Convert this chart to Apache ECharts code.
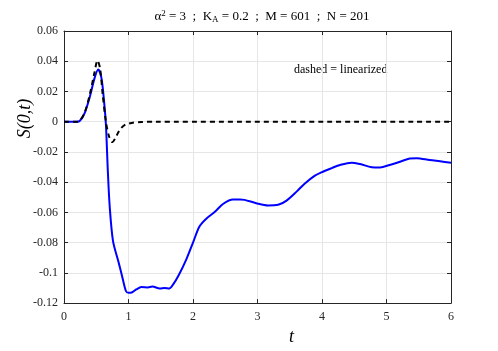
<!DOCTYPE html>
<html><head><meta charset="utf-8">
<script src="https://cdn.jsdelivr.net/npm/echarts@6/dist/echarts.min.js"></script>
<style>html,body{margin:0;padding:0;background:#fff}#c{width:498px;height:351px}</style>
</head><body><div id="c"></div>
<script>
const xTicks = [0,1,2,3,4,5,6];
const yTicks = [-0.12,-0.1,-0.08,-0.06,-0.04,-0.02,0,0.02,0.04,0.06];
const tBlue = [0,0.2,0.25,0.32,0.40,0.475,0.53,0.58,0.62,0.65,0.68,0.71,0.76,0.84,0.90,0.96,1.0,1.05,1.12,1.20,1.30,1.37,1.485,1.56,1.63,1.69,1.78,1.90,2.0,2.10,2.21,2.34,2.47,2.62,2.73,2.80,2.98,3.165,3.32,3.45,3.61,3.73,3.89,3.99,4.15,4.28,4.46,4.59,4.77,4.90,5.05,5.21,5.36,5.47,5.67,5.83,6.0];
const sBlue = [0,0,0.0008,0.0057,0.0164,0.029,0.0345,0.029,0.014,-0.002,-0.033,-0.057,-0.079,-0.092,-0.102,-0.112,-0.1132,-0.113,-0.111,-0.1094,-0.1096,-0.109,-0.1104,-0.110,-0.1104,-0.1078,-0.1014,-0.0907,-0.080,-0.0693,-0.064,-0.0596,-0.0543,-0.0515,-0.0515,-0.0517,-0.0539,-0.0554,-0.055,-0.0522,-0.0461,-0.041,-0.0357,-0.0335,-0.0307,-0.0286,-0.0271,-0.028,-0.0301,-0.0303,-0.0286,-0.0265,-0.0243,-0.0241,-0.0254,-0.0262,-0.0271];
const tDash = [0,0.2,0.25,0.32,0.40,0.47,0.52,0.56,0.60,0.65,0.70,0.75,0.80,0.87,0.95,1.05,1.2,1.4,6];
const sDash = [0,0,0.001,0.006,0.018,0.032,0.0405,0.035,0.018,0.0,-0.010,-0.0135,-0.0105,-0.005,-0.002,-0.0008,-0.0002,0,0];
const titleText = '{n|\u03b1}{s|2}{n| = 3  ;  K}{b|A}{n| = 0.2  ;  M = 601  ;  N = 201}';
const noteText = 'dashed = linearized';

const zip = (a,b) => a.map((v,i)=>[v,b[i]]);
const fmt = v => String(parseFloat((+v).toFixed(2)));
const serif = "'Liberation Serif', 'DejaVu Serif', serif";
const axCol = '#262626';
const chart = echarts.init(document.getElementById('c'));
const tick = {show: true, inside: true, length: 4, lineStyle: {color: axCol}};
const line = {show: true, onZero: false, lineStyle: {color: axCol, width: 1}};
chart.setOption({
  animation: false,
  title: {
    text: titleText, left: 257, top: 4, textAlign: 'center',
    textStyle: {
      fontWeight: 'normal',
      rich: {
        n: {fontFamily: serif, fontSize: 13, fontWeight: 'normal', color: '#000'},
        s: {fontFamily: serif, fontSize: 9, fontWeight: 'normal', color: '#000', verticalAlign: 'top', padding:[0,0,6,0]},
        b: {fontFamily: serif, fontSize: 9, fontWeight: 'normal', color: '#000', verticalAlign: 'bottom', padding:[6,0,0,0]}
      }
    }
  },
  grid: {left: 64, right: 47, top: 31, bottom: 39, show: false},
  xAxis: [{
    type: 'value', min: 0, max: 6, interval: 1, position: 'bottom',
    name: 't', nameLocation: 'middle', nameGap: 14,
    nameTextStyle: {fontFamily: serif, fontStyle: 'italic', fontSize: 18, color: '#000', padding:[6,0,0,68]},
    axisLine: line, axisTick: tick,
    axisLabel: {fontFamily: serif, fontSize: 12, color: axCol, margin: 8, formatter: fmt},
    splitLine: {show: true, lineStyle: {color: '#e6e6e6', width: 1}}
  },{
    type: 'value', min: 0, max: 6, interval: 1, position: 'top',
    axisLine: line, axisTick: tick,
    axisLabel: {show: false}, splitLine: {show: false}
  }],
  yAxis: [{
    type: 'value', min: -0.12, max: 0.06, interval: 0.02, position: 'left',
    name: 'S(0,t)', nameLocation: 'middle', nameGap: 30, nameRotate: 90, nameMoveOverlap: false,
    nameTextStyle: {fontFamily: serif, fontStyle: 'italic', fontSize: 18, color: '#000', padding:[0,0,0,97]},
    axisLine: line, axisTick: tick,
    axisLabel: {fontFamily: serif, fontSize: 12, color: axCol, margin: 6, formatter: fmt},
    splitLine: {show: true, lineStyle: {color: '#e6e6e6', width: 1}}
  },{
    type: 'value', min: -0.12, max: 0.06, interval: 0.02, position: 'right',
    axisLine: line, axisTick: tick,
    axisLabel: {show: false}, splitLine: {show: false}
  }],
  graphic: [{
    type: 'text', left: 294, top: 64,
    style: {text: noteText, fontFamily: serif, fontSize: 12, fill: '#000'}
  }],
  series: [{
    type: 'line', data: zip(tBlue, sBlue), showSymbol: false, smooth: 0.3,
    lineStyle: {color: '#0000ff', width: 2}, z: 2
  },{
    type: 'line', data: zip(tDash, sDash), showSymbol: false, smooth: 0.3,
    lineStyle: {color: '#000', width: 2, type: [5,4]}, z: 3
  }]
});
</script></body></html>
